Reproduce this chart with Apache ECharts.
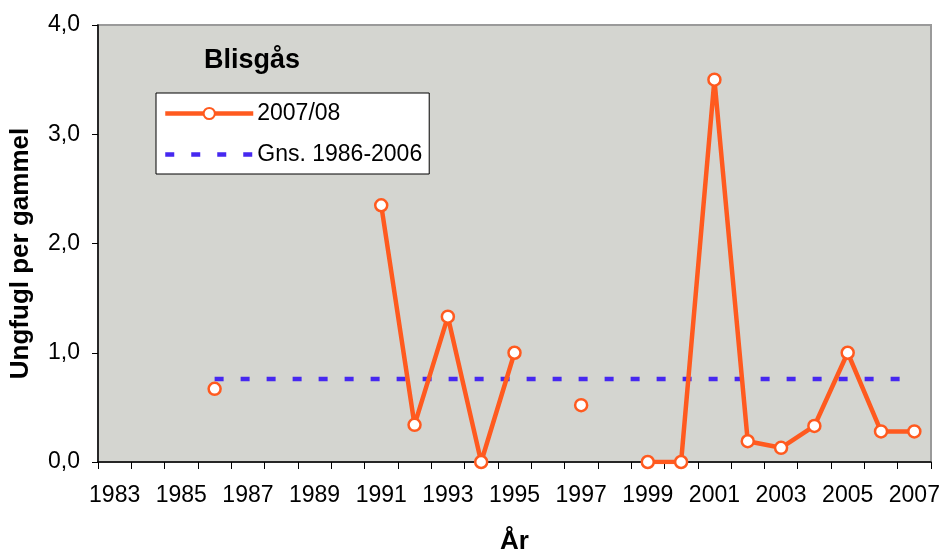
<!DOCTYPE html>
<html>
<head>
<meta charset="utf-8">
<script src="https://cdn.jsdelivr.net/npm/echarts@6/dist/echarts.min.js"></script>
<style>
html, body { margin: 0; padding: 0; background: #fff; }
#chart { width: 942px; height: 553px; }
</style>
</head>
<body>
<div id="chart"></div>
<script>
// years on the category axis
var years = [];
for (var y = 1983; y <= 2007; y++) { years.push(String(y)); }

// ungfugl per gammel, 2007/08 (null = no count)
var season = [null, null, null, 0.67, null, null, null, null, 2.35, 0.34, 1.33, 0.0, 1.0, null,
  0.52, null, 0.0, 0.0, 3.5, 0.19, 0.13, 0.33, 1.0, 0.28, 0.28];

// average 1986-2006
var avgValue = 0.76;
var avg = years.map(function (yr) { return (+yr >= 1986) ? avgValue : null; });

var yTicks = [0, 1, 2, 3, 4];

var font = 'Liberation Sans, Arial, sans-serif';
var orange = '#FF5A1F';
var blue = '#4628F0';
var chart = echarts.init(document.getElementById('chart'));

chart.setOption({
  animation: false,
  backgroundColor: '#fff',
  textStyle: { fontFamily: font },
  title: {
    text: 'Blisgås',
    left: 204,
    top: 47,
    padding: 0,
    textStyle: { fontSize: 27, fontWeight: 'bold', color: '#000', fontFamily: font }
  },
  legend: {
    orient: 'vertical',
    left: 156,
    top: 93,
    padding: [9, 7, 8, 7],
    itemGap: 18,
    itemWidth: 88,
    itemHeight: 14,
    backgroundColor: '#fff',
    borderColor: '#000',
    borderWidth: 1,
    borderRadius: 0,
    textStyle: { fontSize: 23, color: '#000', fontFamily: font, padding: [0, 0, 0, -1] },
    data: [
      { name: '2007/08', lineStyle: { width: 4.5, color: orange } },
      { name: 'Gns. 1986-2006', itemStyle: { opacity: 0 }, lineStyle: { width: 4.5, color: blue, type: [9, 17] } }
    ]
  },
  grid: {
    left: 98,
    right: 11,
    top: 25,
    bottom: 91,
    outerBoundsMode: 'none',
    containLabel: false,
    show: true,
    backgroundColor: '#D4D5D0',
    borderColor: '#9a9a9a',
    borderWidth: 2
  },
  xAxis: {
    type: 'category',
    data: years,
    boundaryGap: true,
    name: 'År',
    nameLocation: 'middle',
    nameGap: 67,
    nameTextStyle: { fontSize: 26, fontWeight: 'bold', color: '#000', fontFamily: font },
    axisLine: { lineStyle: { color: '#000', width: 1.5 } },
    axisTick: { show: true, interval: 0, length: 7, lineStyle: { color: '#000' } },
    axisLabel: { interval: 1, fontSize: 23, color: '#000', margin: 22, fontFamily: font },
    splitLine: { show: false }
  },
  yAxis: {
    type: 'value',
    min: yTicks[0],
    max: yTicks[yTicks.length - 1],
    interval: 1,
    name: 'Ungfugl per gammel',
    nameLocation: 'middle',
    nameRotate: 90,
    nameGap: 64,
    nameTextStyle: { fontSize: 26, fontWeight: 'bold', color: '#000', fontFamily: font, padding: [0, 20, 0, 0] },
    axisLine: { show: true, lineStyle: { color: '#000', width: 1.5 } },
    axisTick: { show: true, length: 6, lineStyle: { color: '#000' } },
    axisLabel: {
      fontSize: 23, color: '#000', margin: 18, fontFamily: font,
      formatter: function (v) { return v.toFixed(1).replace('.', ','); }
    },
    splitLine: { show: false }
  },
  series: [
    {
      name: '2007/08',
      type: 'line',
      data: season,
      connectNulls: false,
      showAllSymbol: true,
      symbol: 'circle',
      symbolSize: 12,
      lineStyle: { color: orange, width: 4.5 },
      itemStyle: { color: '#fff', borderColor: orange, borderWidth: 2.5 },
      z: 3
    },
    {
      name: 'Gns. 1986-2006',
      type: 'line',
      data: avg,
      symbol: 'none',
      lineStyle: { color: blue, width: 4.5, type: [9, 17], cap: 'butt' },
      itemStyle: { color: blue },
      z: 2
    }
  ]
});
</script>
</body>
</html>
